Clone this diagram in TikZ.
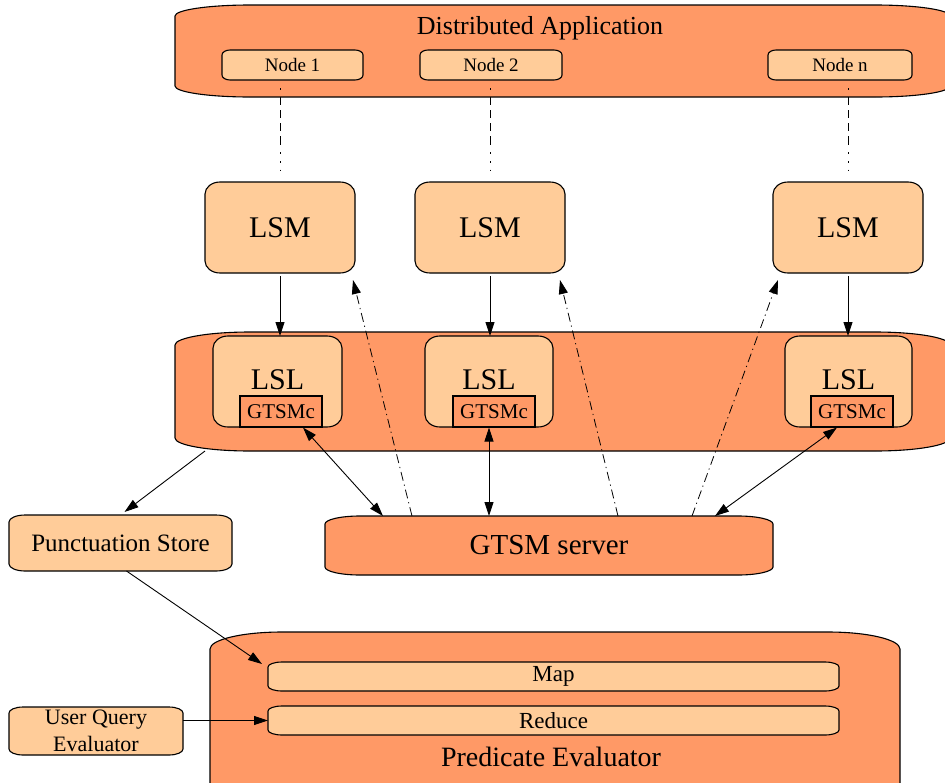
\documentclass[tikz,border=0pt]{standalone}
\usepackage{fontspec}
\setmainfont{Liberation Serif}
\usetikzlibrary{arrows.meta}
\definecolor{fdark}{HTML}{FF9966}
\definecolor{flight}{HTML}{FFCC99}

% Box with elliptical corners (x radius #7, y radius #8), plus an empty named node on top of it.
% #1 style, #2 name, #3 x1, #4 y1, #5 x2, #6 y2
\newcommand\xfigbox[8]{%
  \pgfmathsetmacro\xbka{0.552*#7}%
  \pgfmathsetmacro\xbkb{0.552*#8}%
  \pgfmathsetmacro\xbw{#5-#3}%
  \pgfmathsetmacro\xbh{#6-#4}%
  \path[boxline,#1] (#3+#7,#4) -- (#5-#7,#4)
    .. controls (#5-#7+\xbka,#4) and (#5,#4+#8-\xbkb) .. (#5,#4+#8)
    -- (#5,#6-#8)
    .. controls (#5,#6-#8+\xbkb) and (#5-#7+\xbka,#6) .. (#5-#7,#6)
    -- (#3+#7,#6)
    .. controls (#3+#7-\xbka,#6) and (#3,#6-#8+\xbkb) .. (#3,#6-#8)
    -- (#3,#4+#8)
    .. controls (#3,#4+#8-\xbkb) and (#3+#7-\xbka,#4) .. cycle;
  \node[inner sep=0pt,outer sep=0pt,minimum width=\xbw pt,minimum height=\xbh pt] (#2) at ({(#3+#5)/2},{(#4+#6)/2}) {};
}

\tikzset{
  boxline/.style={draw=black, line width=1.1pt},
  darkbox/.style={fill=fdark},
  lightbox/.style={fill=flight},
  tip/.tip={Triangle[length=14pt,width=9pt]},
  conn/.style={line width=0.9pt, -tip},
  biconn/.style={line width=0.9pt, tip-tip},
  ctrl/.style={line width=0.8pt, dash pattern=on 9pt off 4pt on 1.2pt off 4pt, -tip},
  nodelink/.style={line width=0.9pt, shorten >=10pt,
    dash pattern=on 0pt off 8pt on 1.5pt off 7.5pt on 8pt off 5pt on 8pt off 5pt on 8pt off 5pt
      on 9pt off 7pt on 1.5pt off 7.5pt on 1.5pt off 7pt on 1.5pt off 30pt},
  txt/.style={inner sep=0pt, text=black},
}

\begin{document}
\begin{tikzpicture}[x=1pt,y=-1pt]
\useasboundingbox (0,0) rectangle (945,782);

% distributed application with its nodes
\xfigbox{darkbox}{da}{175}{5}{950}{97}{75}{11}
\xfigbox{lightbox}{n1}{222}{50}{363}{80}{8}{5}
\xfigbox{lightbox}{n2}{420}{50}{562}{80}{8}{5}
\xfigbox{lightbox}{nn}{768}{50}{912}{80}{8}{5}
\node[txt, font=\fontsize{26}{30}\selectfont] (da-t) at (540,28) {Distributed Application};
\node[txt, font=\fontsize{19}{22}\selectfont] (n1-t) at (n1) {Node 1};
\node[txt, font=\fontsize{19}{22}\selectfont] (n2-t) at (n2) {Node 2};
\node[txt, font=\fontsize{19}{22}\selectfont] (nn-t) at (nn) {Node n};

% LSM row
\xfigbox{lightbox}{lsm1}{205}{182}{355}{273}{15}{12}
\xfigbox{lightbox}{lsm2}{415}{182}{565}{273}{15}{12}
\xfigbox{lightbox}{lsmn}{773}{182}{923}{273}{15}{12}
\foreach \b in {lsm1,lsm2,lsmn}
  \node[txt, font=\fontsize{30}{34}\selectfont] (\b-t) at (\b) {LSM};

% LSL layer
\xfigbox{darkbox}{lslbig}{175}{332}{950}{451}{75}{13}
\xfigbox{lightbox}{lsl1}{213}{336}{342}{427}{15}{12}
\xfigbox{lightbox}{lsl2}{425}{336}{553}{427}{15}{12}
\xfigbox{lightbox}{lsln}{785}{336}{912}{427}{15}{12}
\foreach \b in {lsl1,lsl2,lsln}
  \node[txt, font=\fontsize{30}{34}\selectfont] (\b-t) at ([yshift=2]\b) {LSL};
\foreach \b/\cx in {gc1/281,gc2/494,gcn/852}
  \node[boxline, darkbox, minimum width=82pt, minimum height=31pt, inner sep=0pt,
        font=\fontsize{21}{24}\selectfont] (\b) at (\cx,411.5) {GTSMc};

% GTSM server
\xfigbox{darkbox}{gtsm}{325}{516}{773}{575}{35}{8}
\node[txt, font=\fontsize{29}{33}\selectfont] (gtsm-t) at (gtsm) {GTSM server};

% punctuation store
\xfigbox{lightbox}{punct}{9}{515}{232}{571}{16}{7}
\node[txt, font=\fontsize{25}{29}\selectfont] (punct-t) at (punct) {Punctuation Store};

% predicate evaluator
\xfigbox{darkbox}{pe}{210}{632}{900}{800}{72}{17}
\xfigbox{lightbox}{map}{268}{662}{839}{691}{14}{5}
\xfigbox{lightbox}{reduce}{268}{706}{839}{735}{14}{5}
\node[txt, font=\fontsize{23}{26}\selectfont] (map-t) at (map) {Map};
\node[txt, font=\fontsize{23}{26}\selectfont] (reduce-t) at (reduce) {Reduce};
\node[txt, font=\fontsize{28}{32}\selectfont] (pe-t) at (551,757) {Predicate Evaluator};

% user query evaluator
\xfigbox{lightbox}{uqe}{9}{707}{183}{755}{14}{6}
\node[txt, align=center, font=\fontsize{22}{27}\selectfont] (uqe-t) at (uqe) {User Query\\Evaluator};

% node to LSM links
\draw[nodelink] (lsm1.north |- n1.south) -- (lsm1.north);
\draw[nodelink] (lsm2.north |- n2.south) -- (lsm2.north);
\draw[nodelink] (lsmn.north |- nn.south) -- (lsmn.north);

% LSM to LSL
\draw[conn, shorten <=3pt] (lsm1.south) -- (lsm1.south |- lsl1.north);
\draw[conn, shorten <=3pt] (lsm2.south) -- (lsm2.south |- lsl2.north);
\draw[conn, shorten <=3pt] (lsmn.south) -- (lsmn.south |- lsln.north);

% GTSMc to server
\draw[biconn] ([xshift=22]gc1.south) -- ([xshift=-166]gtsm.north);
\draw[biconn] (gc2.south -| lsl2.south) -- (gtsm.north -| lsl2.south);
\draw[biconn] ([xshift=-15]gcn.south) -- ([xshift=166]gtsm.north);

% server to LSM control flow
\draw[ctrl] ([xshift=-137]gtsm.north) -- ([shift={(-2,7)}]lsm1.south east);
\draw[ctrl] ([xshift=69]gtsm.north) -- ([shift={(-5,7)}]lsm2.south east);
\draw[ctrl] ([xshift=143]gtsm.north) -- ([shift={(5,7)}]lsmn.south west);

% punctuation flow
\draw[conn, shorten >=5pt] ([xshift=30]lslbig.south west) -- (punct.north);
\draw[conn] ([xshift=6]punct.south) -- ([shift={(-6,2)}]map.north west);
\draw[conn] (uqe.east |- reduce.west) -- (reduce.west);
\end{tikzpicture}
\end{document}
